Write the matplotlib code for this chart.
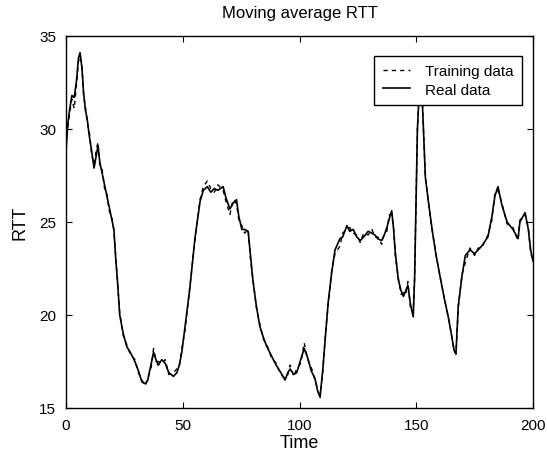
import matplotlib
matplotlib.use("Agg")
import matplotlib.pyplot as plt

plt.rcParams['font.family'] = ['Liberation Sans', 'DejaVu Sans']

time = [0, 0.7, 1.5, 2.5, 3.5, 4.5, 5.3, 6, 6.8, 7.5, 8.3, 9, 10, 11, 12, 13, 13.7, 14.5, 15.5, 16.5,
        17.5, 18.5, 19.7, 20.5, 21.3, 22, 23, 24.5, 26, 27.5, 29.5, 31, 32.5, 34, 35, 36.5, 37.5, 38.5,
        39.5, 41, 42.5, 44, 46, 47.5, 48.5, 49.6, 51, 53, 55.2, 57.4, 58.8, 60.5, 62, 63.5, 65, 67.3,
        68.5, 70.2, 71.5, 73, 74, 75.3, 76.5, 78, 79, 80, 81.5, 83, 84.5, 86, 88, 90, 92, 93.8, 95, 96,
        97.5, 98.8, 100.5, 102, 103.5, 105, 106.6, 107.8, 108.8, 110, 111, 112.3, 113.8, 115.2, 117.3,
        118.5, 120.3, 121.5, 123, 124.5, 126, 127.5, 129.4, 131, 132.3, 133.5, 135.2, 136.3, 137.4,
        138.5, 139.5, 140.3, 141, 142.3, 143.5, 144.5, 145.5, 146.4, 147.5, 148.7, 149.3, 149.8, 150.5,
        151.5, 152.6, 153.9, 155.5, 156.9, 158.5, 160.3, 162, 163.7, 165, 166.2, 167, 168, 169.6, 171,
        173, 175, 176.5, 178, 180.7, 182.4, 183.7, 185, 186.7, 188.9, 191.4, 193.6, 194.4, 196.6, 198,
        199, 200]

real = [28.8, 30.2, 31.0, 31.8, 31.7, 32.6, 33.8, 34.1, 33.3, 32.0, 31.0, 30.6, 29.6, 28.8, 27.9, 28.6,
        29.1, 28.2, 27.6, 27.0, 26.4, 25.8, 25.1, 24.6, 23.0, 21.9, 20.0, 19.0, 18.3, 18.0, 17.5, 17.0,
        16.4, 16.3, 16.5, 17.4, 18.0, 17.6, 17.3, 17.6, 17.4, 16.9, 16.7, 16.9, 17.3, 18.0, 19.4, 21.4,
        24.1, 26.1, 26.7, 26.9, 26.6, 26.8, 26.7, 26.9, 26.3, 25.7, 26.0, 26.2, 25.3, 24.6, 24.6, 24.5,
        23.2, 21.9, 20.5, 19.4, 18.8, 18.3, 17.8, 17.3, 16.9, 16.5, 16.9, 17.1, 16.8, 16.9, 17.6, 18.2,
        17.7, 17.0, 16.6, 15.9, 15.6, 17.1, 18.7, 20.7, 22.3, 23.5, 24.1, 24.2, 24.8, 24.5, 24.6, 24.2,
        24.0, 24.2, 24.5, 24.4, 24.3, 24.1, 24.0, 24.3, 24.7, 25.2, 25.6, 24.6, 23.4, 21.9, 21.3, 21.0,
        21.3, 21.6, 20.6, 19.9, 22.0, 25.3, 30.0, 32.6, 31.5, 27.4, 25.8, 24.5, 23.2, 22.0, 20.9, 19.9,
        19.0, 18.1, 17.9, 20.5, 22.1, 23.2, 23.5, 23.3, 23.5, 23.7, 24.2, 25.3, 26.4, 26.9, 25.9, 25.0,
        24.6, 24.1, 25.0, 25.5, 24.6, 23.5, 22.9]

training = [29.2, 30.0, 30.8, 31.6, 31.1, 32.4, 33.6, 33.9, 33.5, 31.8, 31.2, 30.4, 29.8, 28.6, 28.1, 28.9,
            29.3, 28.0, 27.8, 26.8, 26.5, 25.6, 25.2, 24.5, 23.1, 21.8, 20.1, 18.9, 18.4, 17.9, 17.6, 16.9,
            16.5, 16.2, 16.6, 17.2, 18.2, 17.5, 17.5, 17.4, 17.6, 16.8, 16.9, 17.1, 17.2, 18.2, 19.2, 21.5,
            24.0, 26.2, 26.9, 27.2, 26.8, 26.6, 27.0, 26.7, 26.1, 25.4, 26.2, 26.0, 25.1, 24.8, 24.4, 24.6,
            23.0, 22.0, 20.4, 19.5, 18.7, 18.4, 17.7, 17.4, 16.8, 16.6, 16.8, 17.3, 16.7, 17.1, 17.4, 18.5,
            17.6, 17.2, 16.5, 16.0, 15.5, 17.0, 18.8, 20.6, 22.4, 23.3, 23.7, 24.4, 24.6, 24.7, 24.4, 24.3,
            23.9, 24.4, 24.3, 24.6, 24.2, 24.2, 23.8, 24.4, 24.5, 25.4, 25.4, 24.7, 23.2, 22.0, 21.1, 21.2,
            21.1, 21.8, 20.4, 20.1, 22.0, 25.3, 30.0, 32.6, 31.5, 27.4, 25.8, 24.5, 23.2, 22.0, 20.9, 19.9,
            19.0, 18.1, 17.9, 20.4, 22.2, 22.8, 23.6, 23.2, 23.6, 23.6, 24.3, 25.1, 26.6, 26.7, 26.0, 24.9,
            24.7, 24.0, 25.1, 25.4, 24.7, 23.3, 23.0]

x_ticks = [0, 50, 100, 150, 200]
y_ticks = [15, 20, 25, 30, 35]

fig = plt.figure(figsize=(5.47, 4.56), dpi=100)
ax = fig.add_axes([0.1207, 0.1031, 0.8537, 0.8158])

ax.plot(time, training, color='black', linestyle='--', linewidth=1.0, dashes=(3, 3), label='Training data')
ax.plot(time, real, color='black', linestyle='-', linewidth=1.2, label='Real data')

ax.set_xlim(0, 200)
ax.set_ylim(15, 35)
ax.set_xticks(x_ticks)
ax.set_yticks(y_ticks)
ax.tick_params(direction='in', length=4, labelsize=11, pad=7, top=True, right=True,
               labeltop=False, labelright=False)
for s in ax.spines.values():
    s.set_linewidth(1.0)

ax.set_title('Moving average RTT', fontsize=12, pad=14)
ax.set_xlabel('Time', fontsize=13, labelpad=2)
ax.set_ylabel('RTT', fontsize=13, labelpad=8)

leg = ax.legend(loc='upper right', fontsize=11, frameon=True, fancybox=False, framealpha=1,
                facecolor='white', edgecolor='black', handlelength=1.8, borderpad=0.55,
                labelspacing=0.3, handletextpad=1.0, bbox_to_anchor=(0.9935, 0.968))
leg.get_frame().set_linewidth(1.0)
leg.set_zorder(10)

fig.savefig('out.png', dpi=100)
